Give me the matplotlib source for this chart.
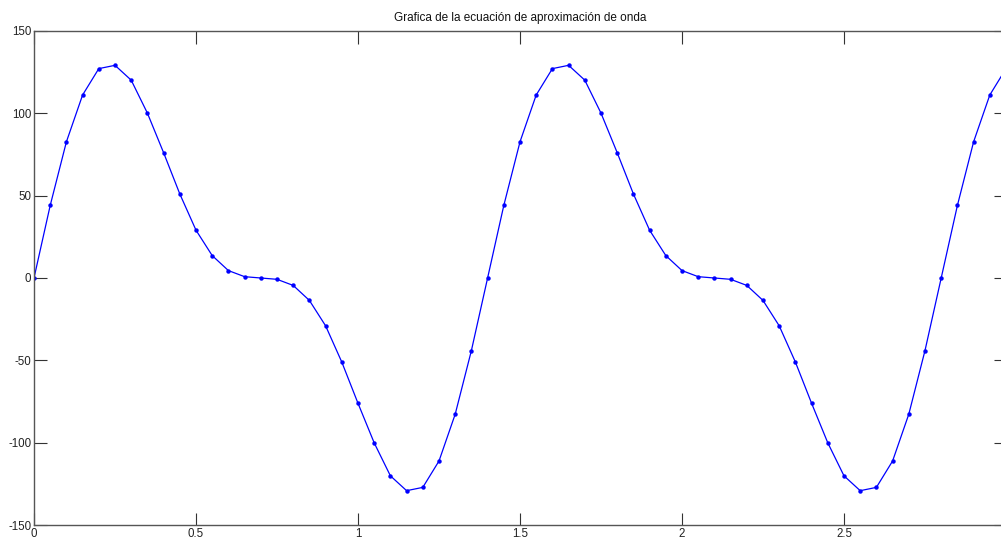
import numpy as np
import matplotlib
matplotlib.use('Agg')
import matplotlib.pyplot as plt

plt.rcParams['font.family'] = ['Liberation Sans', 'DejaVu Sans']
plt.rcParams['axes.unicode_minus'] = False

# tiempo (paso 0.05) y valores
t = np.round(np.arange(0, 3.0001, 0.05), 2)
onda = [0, 44, 82.6, 111, 127, 129, 120, 100, 76, 51,
        29, 13.6, 4.5, 0.8, 0, -0.8, -4.5, -13.6, -29, -51,
        -76, -100, -120, -129, -127, -111, -82.6, -44,
        0, 44, 82.6, 111, 127, 129, 120, 100, 76, 51,
        29, 13.6, 4.5, 0.8, 0, -0.8, -4.5, -13.6, -29, -51,
        -76, -100, -120, -129, -127, -111, -82.6, -44,
        0, 44, 82.6, 111, 127]

xticks = [0, 0.5, 1, 1.5, 2, 2.5]
xtick_labels = ['0', '0.5', '1', '1.5', '2', '2.5']
yticks = [-150, -100, -50, 0, 50, 100, 150]

W, H = 1001, 539
fig = plt.figure(figsize=(W / 100, H / 100), dpi=100)
# la caja de ejes se sale un poco por la derecha, como en la captura original
ax = fig.add_axes([34 / W, (H - 525.3) / H, (1006 - 34) / W, (525.3 - 30.7) / H])

ax.plot(t, onda, color='#0000ff', lw=0.9, marker='o', ms=3.2, mew=0)

ax.set_xlim(0, 3)
ax.set_ylim(-150, 150)
ax.set_xticks(xticks)
ax.set_xticklabels(xtick_labels)
ax.set_yticks(yticks)

for s in ax.spines.values():
    s.set_color('#555555')
    s.set_linewidth(1.0)
ax.tick_params(direction='in', length=9, width=0.8, color='#333333',
               top=True, right=True, labelsize=8.3, labelcolor='#222222', pad=2)

ax.set_title('Grafica de la ecuación de aproximación de onda', fontsize=8.5,
             color='#111111', pad=7)

fig.savefig('out.png', dpi=100)
